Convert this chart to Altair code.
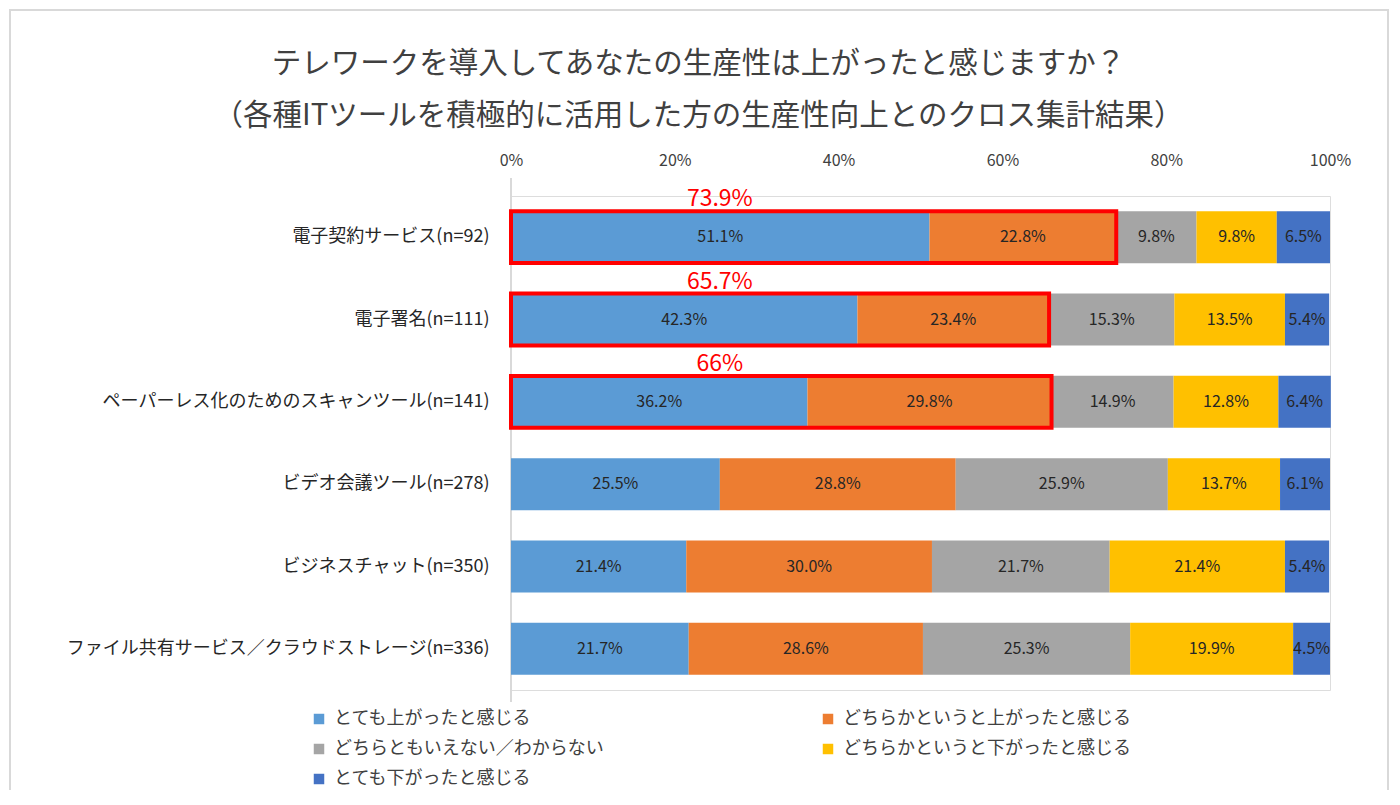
import altair as alt
import pandas as pd

categories = [
    "電子契約サービス(n=92)",
    "電子署名(n=111)",
    "ペーパーレス化のためのスキャンツール(n=141)",
    "ビデオ会議ツール(n=278)",
    "ビジネスチャット(n=350)",
    "ファイル共有サービス／クラウドストレージ(n=336)",
]
series = [
    "とても上がったと感じる",
    "どちらかというと上がったと感じる",
    "どちらともいえない／わからない",
    "どちらかというと下がったと感じる",
    "とても下がったと感じる",
]
colors = ["#5B9BD5", "#ED7D31", "#A5A5A5", "#FFC000", "#4472C4"]

very_up = [51.1, 42.3, 36.2, 25.5, 21.4, 21.7]
some_up = [22.8, 23.4, 29.8, 28.8, 30.0, 28.6]
neutral = [9.8, 15.3, 14.9, 25.9, 21.7, 25.3]
some_down = [9.8, 13.5, 12.8, 13.7, 21.4, 19.9]
very_down = [6.5, 5.4, 6.4, 6.1, 5.4, 4.5]

highlight_rows = categories[:3]
highlight_labels = ["73.9%", "65.7%", "66%"]

tick_values = [0, 20, 40, 60, 80, 100]

FONT = "Noto Sans CJK JP"

values = [very_up, some_up, neutral, some_down, very_down]
rows = []
for ci, cat in enumerate(categories):
    cum = 0.0
    for si, s in enumerate(series):
        v = values[si][ci]
        rows.append({"cat": cat, "series": s, "order": si, "start": cum,
                     "end": cum + v, "mid": cum + v / 2, "value": v,
                     "label": f"{v:.1f}%"})
        cum += v
df = pd.DataFrame(rows)

hl = pd.DataFrame({
    "cat": highlight_rows,
    "zero": [0.0] * 3,
    "total": [very_up[i] + some_up[i] for i in range(3)],
    "label": highlight_labels,
    "pos": [25.5] * 3,
})

yscale = alt.Scale(domain=categories, paddingInner=0.37, paddingOuter=0.185)
xscale = alt.Scale(domain=[0, 100], nice=False)

y_enc = alt.Y("cat:N", scale=yscale, sort=categories, title=None,
              axis=alt.Axis(labelFont=FONT, labelFontSize=18, labelColor="#262626",
                            labelPadding=22, ticks=False, domain=False,
                            labelLimit=600))

bars = alt.Chart(df).mark_bar(size=52).encode(
    y=y_enc,
    x=alt.X("start:Q", scale=xscale, title=None,
            axis=alt.Axis(orient="top", values=tick_values, labelExpr="datum.value + '%'",
                          grid=False, ticks=False, domain=False, labelFont=FONT,
                          labelFontSize=16, labelColor="#404040", labelPadding=28,
                          labelFlush=False)),
    x2="end:Q",
    color=alt.Color("series:N", scale=alt.Scale(domain=series, range=colors), sort=series,
                    legend=alt.Legend(title=None, orient="none", legendX=-201, legendY=514,
                                      direction="horizontal",
                                      columns=2, columnPadding=215, rowPadding=12,
                                      symbolType="square", symbolSize=110,
                                      symbolStrokeWidth=0, labelFont=FONT,
                                      labelFontSize=18, labelColor="#404040",
                                      labelOffset=6, labelLimit=500, padding=0)),
    order="order:Q",
)

labels = alt.Chart(df).mark_text(font=FONT, fontSize=16, color="#262626").encode(
    y=alt.Y("cat:N", scale=yscale, sort=categories),
    x=alt.X("mid:Q", scale=xscale),
    text="label:N",
)

axis_line = alt.Chart(pd.DataFrame({"x": [0.0]})).mark_rule(color="#D9D9D9", strokeWidth=2).encode(
    x=alt.X("x:Q", scale=xscale),
    y=alt.value(-18),
    y2=alt.value(506),
)

boxes = alt.Chart(hl).mark_rect(fillOpacity=0, stroke="#FF0000", strokeWidth=4).encode(
    y=alt.Y("cat:N", scale=yscale, sort=categories),
    x=alt.X("zero:Q", scale=xscale),
    x2="total:Q",
)

hl_text = alt.Chart(hl).mark_text(font=FONT, fontSize=23, color="#FF0000", dy=-38).encode(
    y=alt.Y("cat:N", scale=yscale, sort=categories),
    x=alt.X("pos:Q", scale=xscale),
    text="label:N",
)

frame = alt.Chart(pd.DataFrame({"x": [0.0]})).mark_rect(
    fillOpacity=0, stroke="#D9D9D9", strokeWidth=2
).encode(
    x=alt.value(-501), x2=alt.value(877), y=alt.value(-186), y2=alt.value(599)
)

chart = alt.layer(frame, axis_line, bars, labels, boxes, hl_text).properties(
    width=819,
    height=494,
    padding={"left": 503, "top": 188, "right": 60, "bottom": 100},
    autosize=alt.AutoSizeParams(type="none"),
    title=alt.TitleParams(
        text=["テレワークを導入してあなたの生産性は上がったと感じますか？",
              "（各種ITツールを積極的に活用した方の生産性向上とのクロス集計結果）"],
        font=FONT, fontSize=29.5, fontWeight="normal", color="#404040",
        lineHeight=52, anchor="middle", frame="group", dx=-222, offset=0, dy=122,
    ),
).configure_view(stroke=None).configure(background="white")

chart.save("out.html", embed_options={"renderer": "svg", "actions": False})
